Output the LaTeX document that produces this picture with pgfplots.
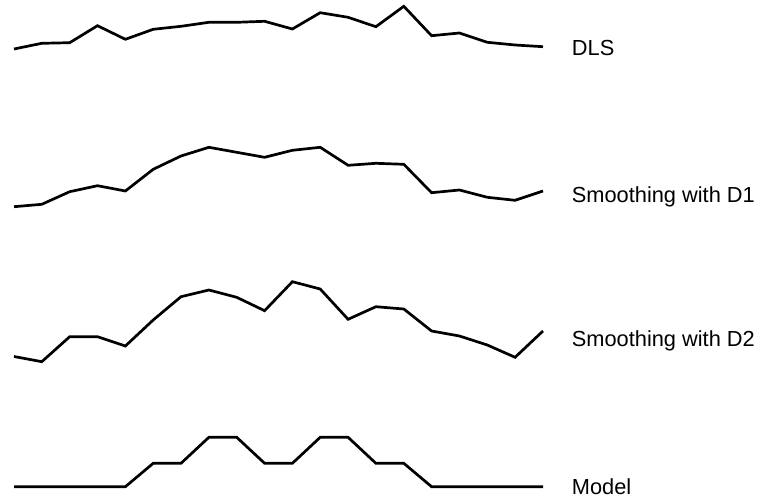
\documentclass[border=0pt]{standalone}
\usepackage{pgfplots}
\pgfplotsset{compat=1.18}
\usepackage{fontspec}
\setmainfont{Liberation Sans}
\begin{document}
\begin{tikzpicture}
\begin{axis}[
  scale only axis, width=380.5pt, height=249pt,
  xmin=0, xmax=761, ymin=0, ymax=498, y dir=reverse,
  hide axis, clip=false,
  ln/.style={line width=1.35pt, black, line join=miter, mark=none},
]
\path (rel axis cs:0,0) rectangle (rel axis cs:1,1);
% DLS
\addplot[ln] coordinates {(14,49) (41.8,43.3) (69.7,42.7) (97.5,25.7) (125.4,39.3) (153.2,29.3) (181,26.3) (208.9,22.3) (236.7,22.3) (264.6,21.3) (292.4,29) (320.2,12.7) (348.1,17.3) (375.9,26.7) (403.8,6.3) (431.6,35.7) (459.4,33) (487.3,42.3) (515.1,45) (543,46.7)};
% Smoothing with D1
\addplot[ln] coordinates {(14,206.7) (41.8,204.3) (69.7,191.7) (97.5,185.7) (125.4,191) (153.2,169.3) (181,156) (208.9,147.3) (236.7,152.3) (264.6,157.3) (292.4,150.3) (320.2,147.3) (348.1,165.3) (375.9,163.3) (403.8,164.3) (431.6,192.7) (459.4,190) (487.3,197.3) (515.1,200.3) (543,191)};
% Smoothing with D2
\addplot[ln] coordinates {(14,356.5) (41.8,361.7) (69.7,336.7) (97.5,336.7) (125.4,346) (153.2,320) (181,296.7) (208.9,290) (236.7,297.3) (264.6,310.7) (292.4,281.7) (320.2,289) (348.1,319.3) (375.9,306.7) (403.8,309) (431.6,331) (459.4,336) (487.3,345) (515.1,357.3) (543,331)};
% Model
\addplot[ln] coordinates {(14,486.7) (41.8,486.7) (69.7,486.7) (97.5,486.7) (125.4,486.7) (153.2,463.3) (181,463.3) (208.9,437.3) (236.7,437.3) (264.6,463.3) (292.4,463.3) (320.2,437.3) (348.1,437.3) (375.9,463.3) (403.8,463.3) (431.6,486.7) (459.4,486.7) (487.3,486.7) (515.1,486.7) (543,486.7)};
\begin{scope}[every node/.style={anchor=base west, inner sep=0pt, font=\fontsize{10.9}{13}\selectfont}]
\node at (axis cs:571.5,55) {DLS};
\node at (axis cs:571.5,202.3) {Smoothing with D1};
\node at (axis cs:571.5,346.7) {Smoothing with D2};
\node at (axis cs:571.5,494.3) {Model};
\end{scope}
\end{axis}
\end{tikzpicture}
\end{document}
